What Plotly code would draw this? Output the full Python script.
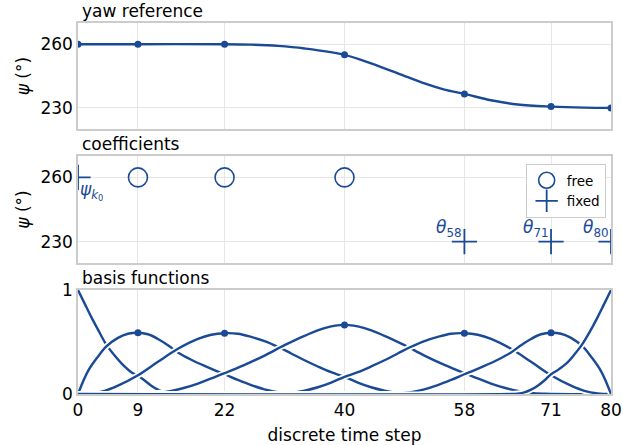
import plotly.graph_objects as go
from plotly.subplots import make_subplots

BLUE = "#1a4a96"
FONT = "DejaVu Sans"

steps = [0, 9, 22, 40, 58, 71, 80]

# yaw reference
yaw_x = [0, 9, 22, 26, 30, 34, 40, 44, 48, 52, 55, 58, 62, 66, 71, 76, 80]
yaw_y = [260, 260, 260, 259.8, 259.2, 258.0, 255.0, 251.0, 246.3, 241.5, 238.6,
         236.6, 233.6, 231.6, 230.6, 230.1, 230.0]

# coefficients
free_x = [9, 22, 40]
free_y = [260, 260, 260]
fixed_x = [0, 58, 71, 80]
fixed_y = [260, 230, 230, 230]
fixed_labels = ["<i>ψ</i><sub><i>k</i><sub>0</sub></sub>", "<i>θ</i><sub>58</sub>",
                "<i>θ</i><sub>71</sub>", "<i>θ</i><sub>80</sub>"]

# basis functions
b0_x = [0, 1, 2, 3, 4.3, 5.5, 6.6, 8, 9, 10, 11, 12, 13, 14, 15, 80]
b0_y = [1.0, 0.87, 0.74, 0.62, 0.47, 0.37, 0.29, 0.21, 0.175, 0.13, 0.08,
        0.042, 0.016, 0.004, 0, 0]
b1_x = [0, 1.5, 3, 4.3, 6, 7.5, 9, 10.5, 12, 13.5, 15, 17, 19, 21, 22, 24, 26,
        28, 30, 32, 34, 80]
b1_y = [0, 0.22, 0.36, 0.46, 0.54, 0.58, 0.59, 0.575, 0.53, 0.47, 0.40, 0.33,
        0.27, 0.215, 0.19, 0.135, 0.085, 0.045, 0.018, 0.004, 0, 0]
b2_x = [0, 2, 4, 6, 9, 12, 15, 18, 20, 22, 24, 26, 28, 30, 32, 34, 36, 38, 40,
        42, 44, 46, 48, 50, 52, 80]
b2_y = [0, 0.005, 0.03, 0.08, 0.18, 0.31, 0.435, 0.53, 0.57, 0.585, 0.58, 0.55,
        0.51, 0.455, 0.39, 0.325, 0.265, 0.21, 0.165, 0.11, 0.065, 0.032,
        0.011, 0.002, 0, 0]
b3_x = [0, 9, 10, 12, 14, 16, 18, 20, 22, 25, 28, 31, 34, 37, 40, 43, 46, 49,
        52, 55, 58, 60, 62, 64, 66, 68, 70, 71, 80]
b3_y = [0, 0, 0.002, 0.01, 0.03, 0.06, 0.10, 0.15, 0.20, 0.28, 0.37, 0.47,
        0.56, 0.635, 0.665, 0.635, 0.56, 0.47, 0.37, 0.28, 0.20, 0.15, 0.10,
        0.06, 0.03, 0.01, 0.002, 0, 0]
b4_x = [0, 28, 30, 32, 34, 36, 38, 40, 42, 44, 46, 48, 50, 52, 54, 56, 58, 60,
        62, 65, 68, 71, 74, 76, 78, 80]
b4_y = [0, 0, 0.002, 0.011, 0.032, 0.065, 0.11, 0.165, 0.21, 0.265, 0.325,
        0.39, 0.455, 0.51, 0.55, 0.58, 0.585, 0.57, 0.53, 0.435, 0.31, 0.18,
        0.08, 0.03, 0.005, 0]
b5_x = [0, 46, 48, 50, 52, 54, 56, 58, 59, 61, 63, 65, 66.5, 68, 69.5, 71,
        72.5, 74, 75.7, 77, 78.5, 80]
b5_y = [0, 0, 0.004, 0.018, 0.045, 0.085, 0.135, 0.19, 0.215, 0.27, 0.33, 0.40,
        0.47, 0.53, 0.575, 0.59, 0.58, 0.54, 0.46, 0.36, 0.22, 0]
b6_x = [0, 65, 66, 67, 68, 69, 70, 71, 72, 73.4, 74.5, 75.7, 77, 78, 79, 80]
b6_y = [0, 0, 0.004, 0.016, 0.042, 0.08, 0.13, 0.19, 0.23, 0.30, 0.38, 0.48,
        0.62, 0.74, 0.87, 1.0]
peak_x = [9, 22, 40, 58, 71]
peak_y = [0.59, 0.585, 0.665, 0.585, 0.59]

basis = [(b0_x, b0_y), (b1_x, b1_y), (b2_x, b2_y), (b3_x, b3_y),
         (b4_x, b4_y), (b5_x, b5_y), (b6_x, b6_y)]

fig = make_subplots(rows=3, cols=1, shared_xaxes=True)

# yaw reference
fig.add_trace(go.Scatter(
    x=yaw_x, y=yaw_y, mode="lines", line=dict(color=BLUE, width=2.4, shape="spline"),
    showlegend=False, hoverinfo="skip"), row=1, col=1)
knot_y = [yaw_y[yaw_x.index(s)] for s in steps]
fig.add_trace(go.Scatter(
    x=steps, y=knot_y, mode="markers", marker=dict(color=BLUE, size=7),
    showlegend=False), row=1, col=1)

# coefficients
fig.add_trace(go.Scatter(
    x=free_x, y=free_y, mode="markers", name="free",
    marker=dict(symbol="circle-open", size=19, color=BLUE, line=dict(width=1.6, color=BLUE))),
    row=2, col=1)
fig.add_trace(go.Scatter(
    x=fixed_x, y=fixed_y, mode="markers", name="fixed",
    marker=dict(symbol="cross-thin-open", size=18, color=BLUE, line=dict(width=1.8, color=BLUE))),
    row=2, col=1)

# basis functions, each with a white halo so crossings show a gap
for bx, by in basis:
    fig.add_trace(go.Scatter(
        x=bx, y=by, mode="lines", line=dict(color="white", width=6, shape="spline"),
        showlegend=False, hoverinfo="skip"), row=3, col=1)
    fig.add_trace(go.Scatter(
        x=bx, y=by, mode="lines", line=dict(color=BLUE, width=2.4, shape="spline"),
        showlegend=False), row=3, col=1)
fig.add_trace(go.Scatter(
    x=peak_x, y=peak_y, mode="markers", marker=dict(color=BLUE, size=7),
    showlegend=False), row=3, col=1)

domains = [[0.714, 1.0], [0.353, 0.6415], [0.0, 0.280]]
titles = ["yaw reference", "coefficients", "basis functions"]

axis_style = dict(showgrid=True, gridcolor="#e6e6e6", gridwidth=1, showline=True,
                  mirror=True, linecolor="#cccccc", linewidth=1.5, zeroline=False,
                  ticks="", automargin=False,
                  tickfont=dict(size=17, color="black", family=FONT))

for i in range(3):
    fig.update_xaxes(range=[0, 80], tickvals=steps, row=i + 1, col=1, **axis_style)
    fig.update_yaxes(domain=domains[i], row=i + 1, col=1, **axis_style)
    fig.add_annotation(text=titles[i], xref="paper", yref="paper", x=0, y=domains[i][1],
                       xanchor="left", yanchor="bottom", xshift=2, showarrow=False,
                       font=dict(size=17, color="black", family=FONT))

ytitle = dict(text="<i>ψ</i> (°)", standoff=6,
              font=dict(size=17, color="black", family=FONT))
fig.update_yaxes(range=[220, 270], tickvals=[230, 260], title=ytitle, row=1, col=1)
fig.update_yaxes(range=[220, 270], tickvals=[230, 260], title=ytitle, row=2, col=1)
fig.update_yaxes(range=[0, 1], tickvals=[0, 1], row=3, col=1)
fig.update_xaxes(title=dict(text="discrete time step",
                            font=dict(size=17, color="black", family=FONT)),
                 row=3, col=1)

for k, (fx, fy) in enumerate(zip(fixed_x, fixed_y)):
    if k == 0:
        fig.add_annotation(text=fixed_labels[k], x=fx, y=fy, xref="x2", yref="y2",
                           xanchor="left", yanchor="top", showarrow=False,
                           font=dict(size=17, color=BLUE, family=FONT))
    else:
        fig.add_annotation(text=fixed_labels[k], x=fx, y=fy, xref="x2", yref="y2",
                           xanchor="right", yanchor="bottom", showarrow=False,
                           font=dict(size=17, color=BLUE, family=FONT))

fig.update_layout(
    width=623, height=445,
    margin=dict(l=78, r=12, t=23, b=51),
    plot_bgcolor="white", paper_bgcolor="white",
    font=dict(family=FONT, size=17, color="black"),
    showlegend=True,
    legend=dict(x=0.99, y=0.62, xanchor="right", yanchor="top",
                bordercolor="#cccccc", borderwidth=1, bgcolor="white",
                font=dict(size=13.5, family=FONT), tracegroupgap=0,
                itemwidth=30),
)

fig.write_html("out.html", config={"displayModeBar": False},
               post_script="document.body.style.margin = '0px';")
